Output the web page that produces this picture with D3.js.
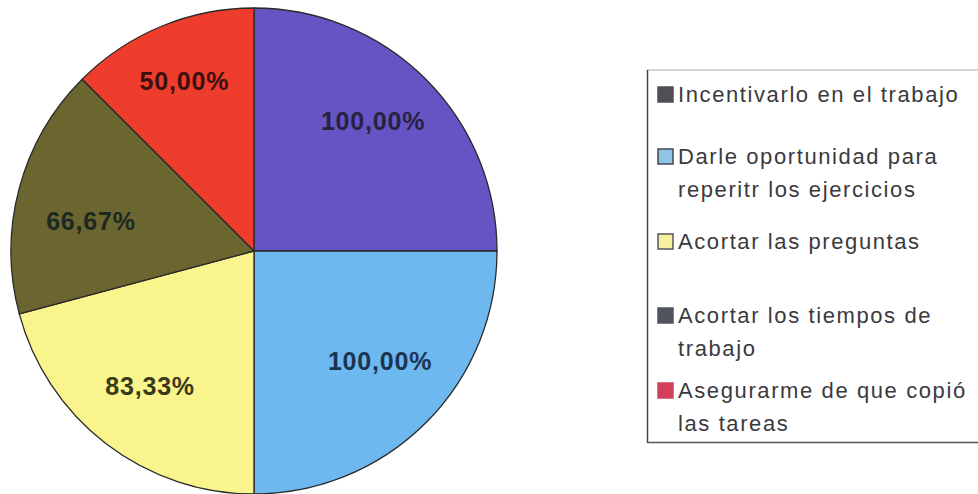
<!DOCTYPE html>
<html>
<head>
<meta charset="utf-8">
<script src="https://cdn.jsdelivr.net/npm/d3@7"></script>
<style>
  html, body { margin: 0; padding: 0; background: #ffffff; }
  svg { display: block; }
</style>
</head>
<body>
<svg id="chart" width="978" height="494"></svg>
<script>
// ---- Data ----
const categories = [
  "Incentivarlo en el trabajo",
  "Darle oportunidad para reperitr los ejercicios",
  "Acortar las preguntas",
  "Acortar los tiempos de trabajo",
  "Asegurarme de que copió las tareas"
];
const legendLines = [
  ["Incentivarlo en el trabajo"],
  ["Darle oportunidad para", "reperitr los ejercicios"],
  ["Acortar las preguntas"],
  ["Acortar los tiempos de", "trabajo"],
  ["Asegurarme de que copió", "las tareas"]
];
const values = [100, 100, 83.33, 66.67, 50];

// ---- Styles / layout ----
const sliceColors = ["#6654c4", "#6cb8ef", "#f9f48b", "#6b6530", "#ee3d2c"];
const labelColors = ["#262240", "#1c3352", "#3a3a1a", "#1c2820", "#3a1010"];
const labelNudge = [[-4, -7], [3, -13], [2, -3], [5, 15], [-3, -9]];
const legendFill = ["#4f4f56", "#8fc4e6", "#f6f0a0", "#50545c", "#d2405e"];
const legendStroke = ["#4f4f56", "#45474e", "#55565a", "#50545c", "#d2405e"];

const svg = d3.select("#chart");
const cx = 254, cy = 251, R = 243;

const pie = d3.pie().sort(null).value(d => d);
const arcs = pie(values);
const arc = d3.arc().innerRadius(0).outerRadius(R);
const labelArc = d3.arc().innerRadius(174).outerRadius(174);

const fmt = d3.formatLocale({decimal: ",", thousands: ".", grouping: [3], currency: ["", ""]}).format(".2f");

const g = svg.append("g").attr("transform", `translate(${cx},${cy})`);
g.selectAll("path.slice")
  .data(arcs)
  .join("path")
  .attr("class", "slice")
  .attr("d", arc)
  .attr("fill", (d, i) => sliceColors[i])
  .attr("stroke", "#2a2a2a")
  .attr("stroke-width", 1.3);

g.selectAll("text.lbl")
  .data(arcs)
  .join("text")
  .attr("class", "lbl")
  .attr("transform", (d, i) => {
    const c = labelArc.centroid(d);
    return `translate(${c[0] + labelNudge[i][0]},${c[1] + labelNudge[i][1]})`;
  })
  .attr("text-anchor", "middle")
  .attr("dy", "0.36em")
  .attr("font-family", "Liberation Sans, Arial, sans-serif")
  .attr("font-weight", "bold")
  .attr("font-size", 25)
  .attr("letter-spacing", 0.8)
  .attr("fill", (d, i) => labelColors[i])
  .text(d => fmt(d.data) + "%");

// ---- Legend ----
const lg = svg.append("g");
lg.append("line").attr("x1", 647).attr("x2", 978).attr("y1", 70).attr("y2", 70)
  .attr("stroke", "#c8c8c8").attr("stroke-width", 1.5);
lg.append("line").attr("x1", 647.5).attr("x2", 647.5).attr("y1", 70).attr("y2", 443)
  .attr("stroke", "#444").attr("stroke-width", 1.5);
lg.append("line").attr("x1", 647).attr("x2", 978).attr("y1", 442.5).attr("y2", 442.5)
  .attr("stroke", "#555").attr("stroke-width", 1.5);

const itemBaselines = [102, 164, 249, 323, 398];
const lineGap = 33;

const items = lg.selectAll("g.item")
  .data(categories)
  .join("g")
  .attr("class", "item")
  .attr("transform", (d, i) => `translate(0,${itemBaselines[i]})`);

items.append("rect")
  .attr("x", 658).attr("y", -15)
  .attr("width", 15).attr("height", 15)
  .attr("fill", (d, i) => legendFill[i])
  .attr("stroke", (d, i) => legendStroke[i])
  .attr("stroke-width", 1.5);

items.each(function(d, i) {
  const t = d3.select(this).append("text")
    .attr("font-family", "Liberation Sans, Arial, sans-serif")
    .attr("font-size", 22)
    .attr("letter-spacing", 1.6)
    .attr("fill", "#3a3a3e");
  legendLines[i].forEach((ln, k) => {
    t.append("tspan").attr("x", 678).attr("y", k * lineGap).text(ln);
  });
});
</script>
</body>
</html>
